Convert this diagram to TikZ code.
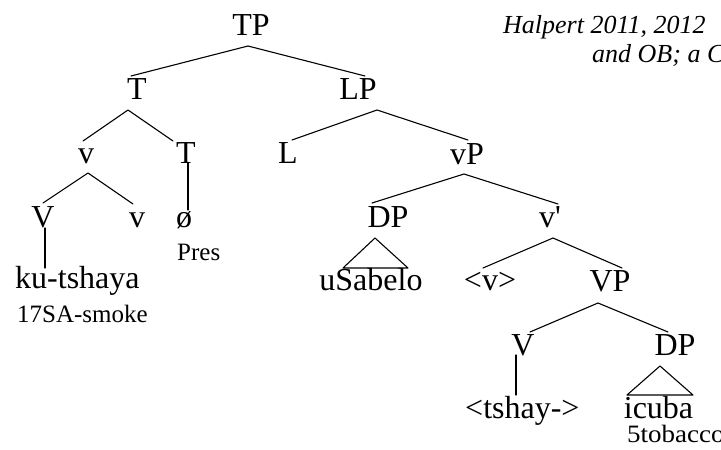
\documentclass[tikz,border=0pt]{standalone}
\usepackage{fontspec}
\setmainfont{Liberation Serif}
\begin{document}
\begin{tikzpicture}[x=1pt,y=-1pt,
  lab/.style={inner sep=0pt,anchor=base,font=\fontsize{32}{38}\selectfont},
  gloss/.style={inner sep=0pt,anchor=base west,font=\fontsize{25}{30}\selectfont},
  note/.style={inner sep=0pt,anchor=base west,font=\fontsize{26}{31}\selectfont\itshape},
  edge/.style={line width=1.1pt,line cap=round,line join=round}]
\useasboundingbox (0,0) rectangle (721,450);
% labels
\node[lab] (TP) at (251,35) {TP};
\node[lab] (T1) at (137,99) {T};
\node[lab] (LP) at (358,99) {LP};
\node[lab] (v1) at (86,163) {v};
\node[lab] (T2) at (186,163) {T};
\node[lab] (L) at (288,163) {L};
\node[lab] (vP) at (467,164) {vP};
\node[lab] (V1) at (43,227) {V};
\node[lab] (v2) at (137,227) {v};
\node[lab] (null) at (184,227) {ø};
\node[lab] (DP1) at (388,227) {DP};
\node[lab] (vbar) at (550,227) {v\textquotesingle};
\node[gloss] (pres) at (177,260) {Pres};
\node[lab,anchor=base west] (ku) at (15,288) {ku-tshaya};
\node[gloss] (g1) at (17,322) {17SA-smoke};
\node[lab] (usab) at (371,290) {uSabelo};
\node[lab] (vtr) at (490,290) {<v>};
\node[lab] (VP) at (610,291) {VP};
\node[lab] (V2) at (523,355) {V};
\node[lab] (DP2) at (675,355) {DP};
\node[lab,anchor=base west] (tsh) at (465,418) {<tshay->};
\node[lab] (icuba) at (658.5,418) {icuba};
\node[gloss,xscale=1.08] (g2) at (627,442) {5tobacco};
\node[note] (n1) at (503,33) {Halpert 2011, 2012};
\node[note] (n2) at (592,62) {and OB; a C};
% connector end points
\coordinate (TPb) at (248,46);
\coordinate (T1t) at (131,76);
\coordinate (LPt) at (365,76);
\coordinate (T1b) at (128,110);
\coordinate (v1t) at (83,141);
\coordinate (T2t) at (173,141);
\coordinate (v1b) at (88,173);
\coordinate (V1t) at (43,203);
\coordinate (v2t) at (133,204);
\coordinate (T2b) at (188,163);
\coordinate (nullt) at (188,210);
\coordinate (V1b) at (45,228);
\coordinate (kut) at (45,268);
\coordinate (LPb) at (377,110);
\coordinate (Lt) at (292,140);
\coordinate (vPt) at (468,140);
\coordinate (vPb) at (464,174);
\coordinate (DP1t) at (372,203);
\coordinate (vbart) at (558,204);
\coordinate (DP1a) at (375,238);
\coordinate (DP1l) at (343,268);
\coordinate (DP1r) at (408,268);
\coordinate (vbarb) at (553,238);
\coordinate (vtrt) at (483,268);
\coordinate (VPt) at (622,268);
\coordinate (VPb) at (598,303);
\coordinate (V2t) at (530,332);
\coordinate (DP2t) at (668,332);
\coordinate (V2b) at (516,355);
\coordinate (tsht) at (516,395);
\coordinate (DP2a) at (660,366);
\coordinate (DP2l) at (627,395);
\coordinate (DP2r) at (693,395);
% connectors
\draw[edge] (T1t) -- (TPb) -- (LPt);
\draw[edge] (v1t) -- (T1b) -- (T2t);
\draw[edge] (V1t) -- (v1b) -- (v2t);
\draw[edge] (T2b) -- (nullt);
\draw[edge] (V1b) -- (kut);
\draw[edge] (Lt) -- (LPb) -- (vPt);
\draw[edge] (DP1t) -- (vPb) -- (vbart);
\draw[edge] (DP1a) -- (DP1l) -- (DP1r) -- cycle;
\draw[edge] (vtrt) -- (vbarb) -- (VPt);
\draw[edge] (V2t) -- (VPb) -- (DP2t);
\draw[edge] (V2b) -- (tsht);
\draw[edge] (DP2a) -- (DP2l) -- (DP2r) -- cycle;
\end{tikzpicture}
\end{document}
